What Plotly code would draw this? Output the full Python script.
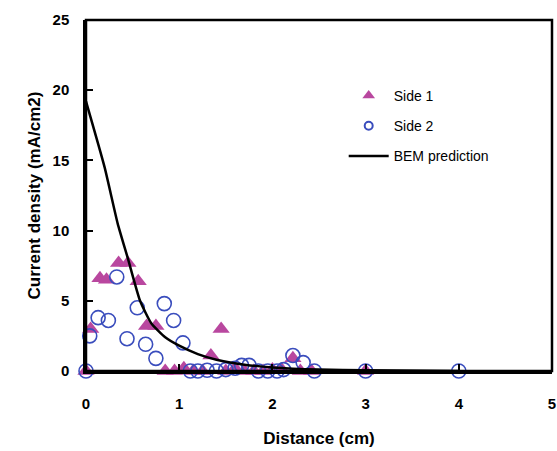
import plotly.graph_objects as go

# Side 1 (triangles)
side1_x = [0.0, 0.05, 0.15, 0.22, 0.35, 0.45, 0.56, 0.65, 0.75, 0.85, 0.95, 1.05, 1.15,
           1.25, 1.34, 1.45, 1.5, 1.6, 1.7, 1.8, 1.9, 2.0, 2.1, 2.22, 2.3, 2.42, 3.0]
side1_y = [0.0, 3.0, 6.6, 6.5, 7.7, 7.7, 6.4, 3.2, 3.2, 0.0, 0.0, 0.2, 0.0,
           0.0, 1.1, 3.0, 0.0, 0.2, 0.0, 0.0, 0.0, 0.1, 0.1, 0.9, 0.0, 0.0, 0.0]

# Side 2 (open circles)
side2_x = [0.0, 0.04, 0.13, 0.24, 0.33, 0.44, 0.55, 0.64, 0.75, 0.84, 0.94, 1.04, 1.12,
           1.2, 1.3, 1.4, 1.5, 1.6, 1.67, 1.75, 1.85, 1.95, 2.05, 2.12, 2.22, 2.33, 2.45, 3.0, 4.0]
side2_y = [0.0, 2.5, 3.8, 3.6, 6.7, 2.3, 4.5, 1.9, 0.9, 4.8, 3.6, 2.0, 0.0,
           0.0, 0.05, 0.0, 0.1, 0.2, 0.4, 0.4, 0.0, 0.0, 0.0, 0.1, 1.1, 0.6, 0.0, 0.0, 0.0]

# BEM prediction
bem_x = [0.0, 0.2, 0.34, 0.45, 0.58, 0.7, 0.85, 1.0, 1.2, 1.4, 1.7, 2.0, 2.5, 3.0, 4.0]
bem_y = [19.2, 14.5, 10.5, 8.0, 5.0, 3.4, 2.4, 1.8, 1.2, 0.8, 0.45, 0.25, 0.1, 0.05, 0.0]

x_ticks = [0, 1, 2, 3, 4, 5]
y_ticks = [0, 5, 10, 15, 20, 25]

FONT = "Liberation Sans, Arial, sans-serif"
TRI_COLOR = "#b9479f"
CIRC_COLOR = "#3a4dbd"

fig = go.Figure()
fig.add_trace(go.Scatter(
    x=side1_x, y=side1_y, mode="markers", name="Side 1", showlegend=False,
    marker=dict(symbol="triangle-up", size=15, color=TRI_COLOR),
    cliponaxis=False))
fig.add_trace(go.Scatter(
    x=side2_x, y=side2_y, mode="markers", name="Side 2", showlegend=False,
    marker=dict(symbol="circle-open", size=14, color=CIRC_COLOR, line=dict(width=1.6)),
    cliponaxis=False))
fig.add_trace(go.Scatter(
    x=bem_x, y=bem_y, mode="lines", name="BEM prediction", showlegend=False,
    line=dict(color="black", width=2.5, shape="spline", smoothing=0.5),
    cliponaxis=False))

# legend entries (smaller symbols, as in the reference legend)
fig.add_trace(go.Scatter(x=[None], y=[None], mode="markers", name="Side 1", legendgroup="a",
                         marker=dict(symbol="triangle-up", size=11, color=TRI_COLOR)))
fig.add_trace(go.Scatter(x=[None], y=[None], mode="markers", name="Side 2", legendgroup="b",
                         marker=dict(symbol="circle-open", size=8, color=CIRC_COLOR, line=dict(width=2))))
fig.add_trace(go.Scatter(x=[None], y=[None], mode="lines", name="BEM prediction", legendgroup="c",
                         line=dict(color="black", width=2.5)))

fig.update_layout(
    width=557, height=451,
    margin=dict(l=86, r=5, t=20, b=80, autoexpand=False),
    paper_bgcolor="white", plot_bgcolor="white",
    font=dict(family=FONT, color="black"),
    showlegend=True,
    legend=dict(x=0.553, y=0.829, xanchor="left", yanchor="top",
                bgcolor="rgba(0,0,0,0)", font=dict(size=14, family=FONT),
                traceorder="grouped", tracegroupgap=9, itemwidth=40),
    shapes=[dict(type="rect", xref="paper", yref="paper", x0=0, y0=0, x1=1, y1=1,
                 line=dict(color="black", width=2.5), layer="above")],
)
fig.update_xaxes(
    range=[0, 5], tickvals=x_ticks, ticks="inside", ticklen=7, tickwidth=2,
    tickcolor="black", showline=True, linecolor="black", linewidth=2.5, mirror=False,
    showgrid=False, zeroline=False, ticklabelstandoff=17, automargin=False,
    tickfont=dict(size=15, family=FONT, weight="bold"),
    title=dict(text="Distance (cm)", font=dict(size=17, family=FONT, weight="bold"), standoff=22))
fig.update_yaxes(
    range=[0, 25], tickvals=y_ticks, ticks="inside", ticklen=7, tickwidth=2,
    tickcolor="black", showline=True, linecolor="black", linewidth=2.5, mirror=False,
    showgrid=False, zeroline=False, ticklabelstandoff=11, automargin=False,
    tickfont=dict(size=15, family=FONT, weight="bold"),
    title=dict(text="Current density (mA/cm2)", font=dict(size=17, family=FONT, weight="bold"), standoff=8))

# remove the default page margin and scrollbars so the figure fills the window exactly
fig.write_html(
    "out.html",
    config={"displayModeBar": False},
    post_script="document.body.style.margin='0';document.body.style.overflow='hidden';"
                "document.documentElement.style.overflow='hidden';")
